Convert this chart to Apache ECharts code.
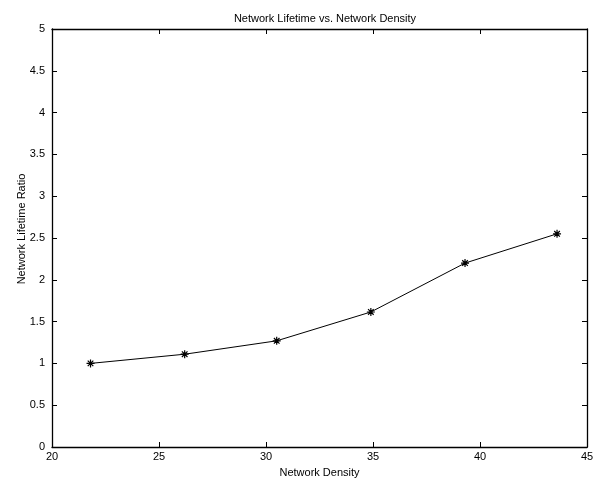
<!DOCTYPE html>
<html>
<head>
<meta charset="utf-8">
<script src="https://cdn.jsdelivr.net/npm/echarts@6/dist/echarts.min.js"></script>
<style>html,body{margin:0;padding:0;background:#fff}#c{width:597px;height:483px}</style>
</head>
<body>
<div id="c"></div>
<script>
const densities = [21.8, 26.2, 30.5, 34.9, 39.3, 43.6];
const lifetimeRatio = [1.0, 1.11, 1.27, 1.615, 2.2, 2.55];
const titleText = 'Network Lifetime vs. Network Density';
const xName = 'Network Density';
const yName = 'Network Lifetime Ratio';

const font = 'Liberation Sans, Arial, Helvetica, sans-serif';
const chart = echarts.init(document.getElementById('c'));
const axisCommon = {
  axisLine: {show: true, onZero: false, lineStyle: {color: '#000', width: 1.3}},
  axisTick: {show: true, inside: true, length: 5, lineStyle: {color: '#000', width: 1}},
  splitLine: {show: false}
};
chart.setOption({
  backgroundColor: '#fff',
  animation: false,
  title: {text: titleText, left: 320, textAlign: 'center', top: 8,
    textStyle: {fontFamily: font, fontSize: 11, fontWeight: 'normal', color: '#000'}},
  grid: {left: 52, right: 10, top: 29, bottom: 31},
  xAxis: [
    Object.assign({type: 'value', min: 20, max: 45, interval: 5, position: 'bottom',
      name: xName, nameLocation: 'middle', nameGap: 20, nameMoveOverlap: false,
      nameTextStyle: {fontFamily: font, fontSize: 11, color: '#000'},
      axisLabel: {fontFamily: font, fontSize: 11, color: '#000', margin: 4}}, axisCommon),
    Object.assign({type: 'value', min: 20, max: 45, interval: 5, position: 'top',
      axisLabel: {show: false}}, axisCommon)
  ],
  yAxis: [
    Object.assign({type: 'value', min: 0, max: 5, interval: 0.5, position: 'left',
      name: yName, nameLocation: 'middle', nameGap: 25, nameMoveOverlap: false,
      nameTextStyle: {fontFamily: font, fontSize: 11, color: '#000', padding: [0, 0, 0, 18]},
      axisLabel: {fontFamily: font, fontSize: 11, color: '#000', margin: 7}}, axisCommon),
    Object.assign({type: 'value', min: 0, max: 5, interval: 0.5, position: 'right',
      axisLabel: {show: false}}, axisCommon)
  ],
  series: [{
    type: 'line',
    data: densities.map((d, i) => [d, lifetimeRatio[i]]),
    lineStyle: {color: '#000', width: 1},
    symbol: 'path://M5 0 L5 10 M0 5 L10 5 M1.5 1.5 L8.5 8.5 M1.5 8.5 L8.5 1.5',
    symbolSize: 8,
    itemStyle: {color: '#000', borderColor: '#000', borderWidth: 1.2},
    showSymbol: true
  }]
});
</script>
</body>
</html>
